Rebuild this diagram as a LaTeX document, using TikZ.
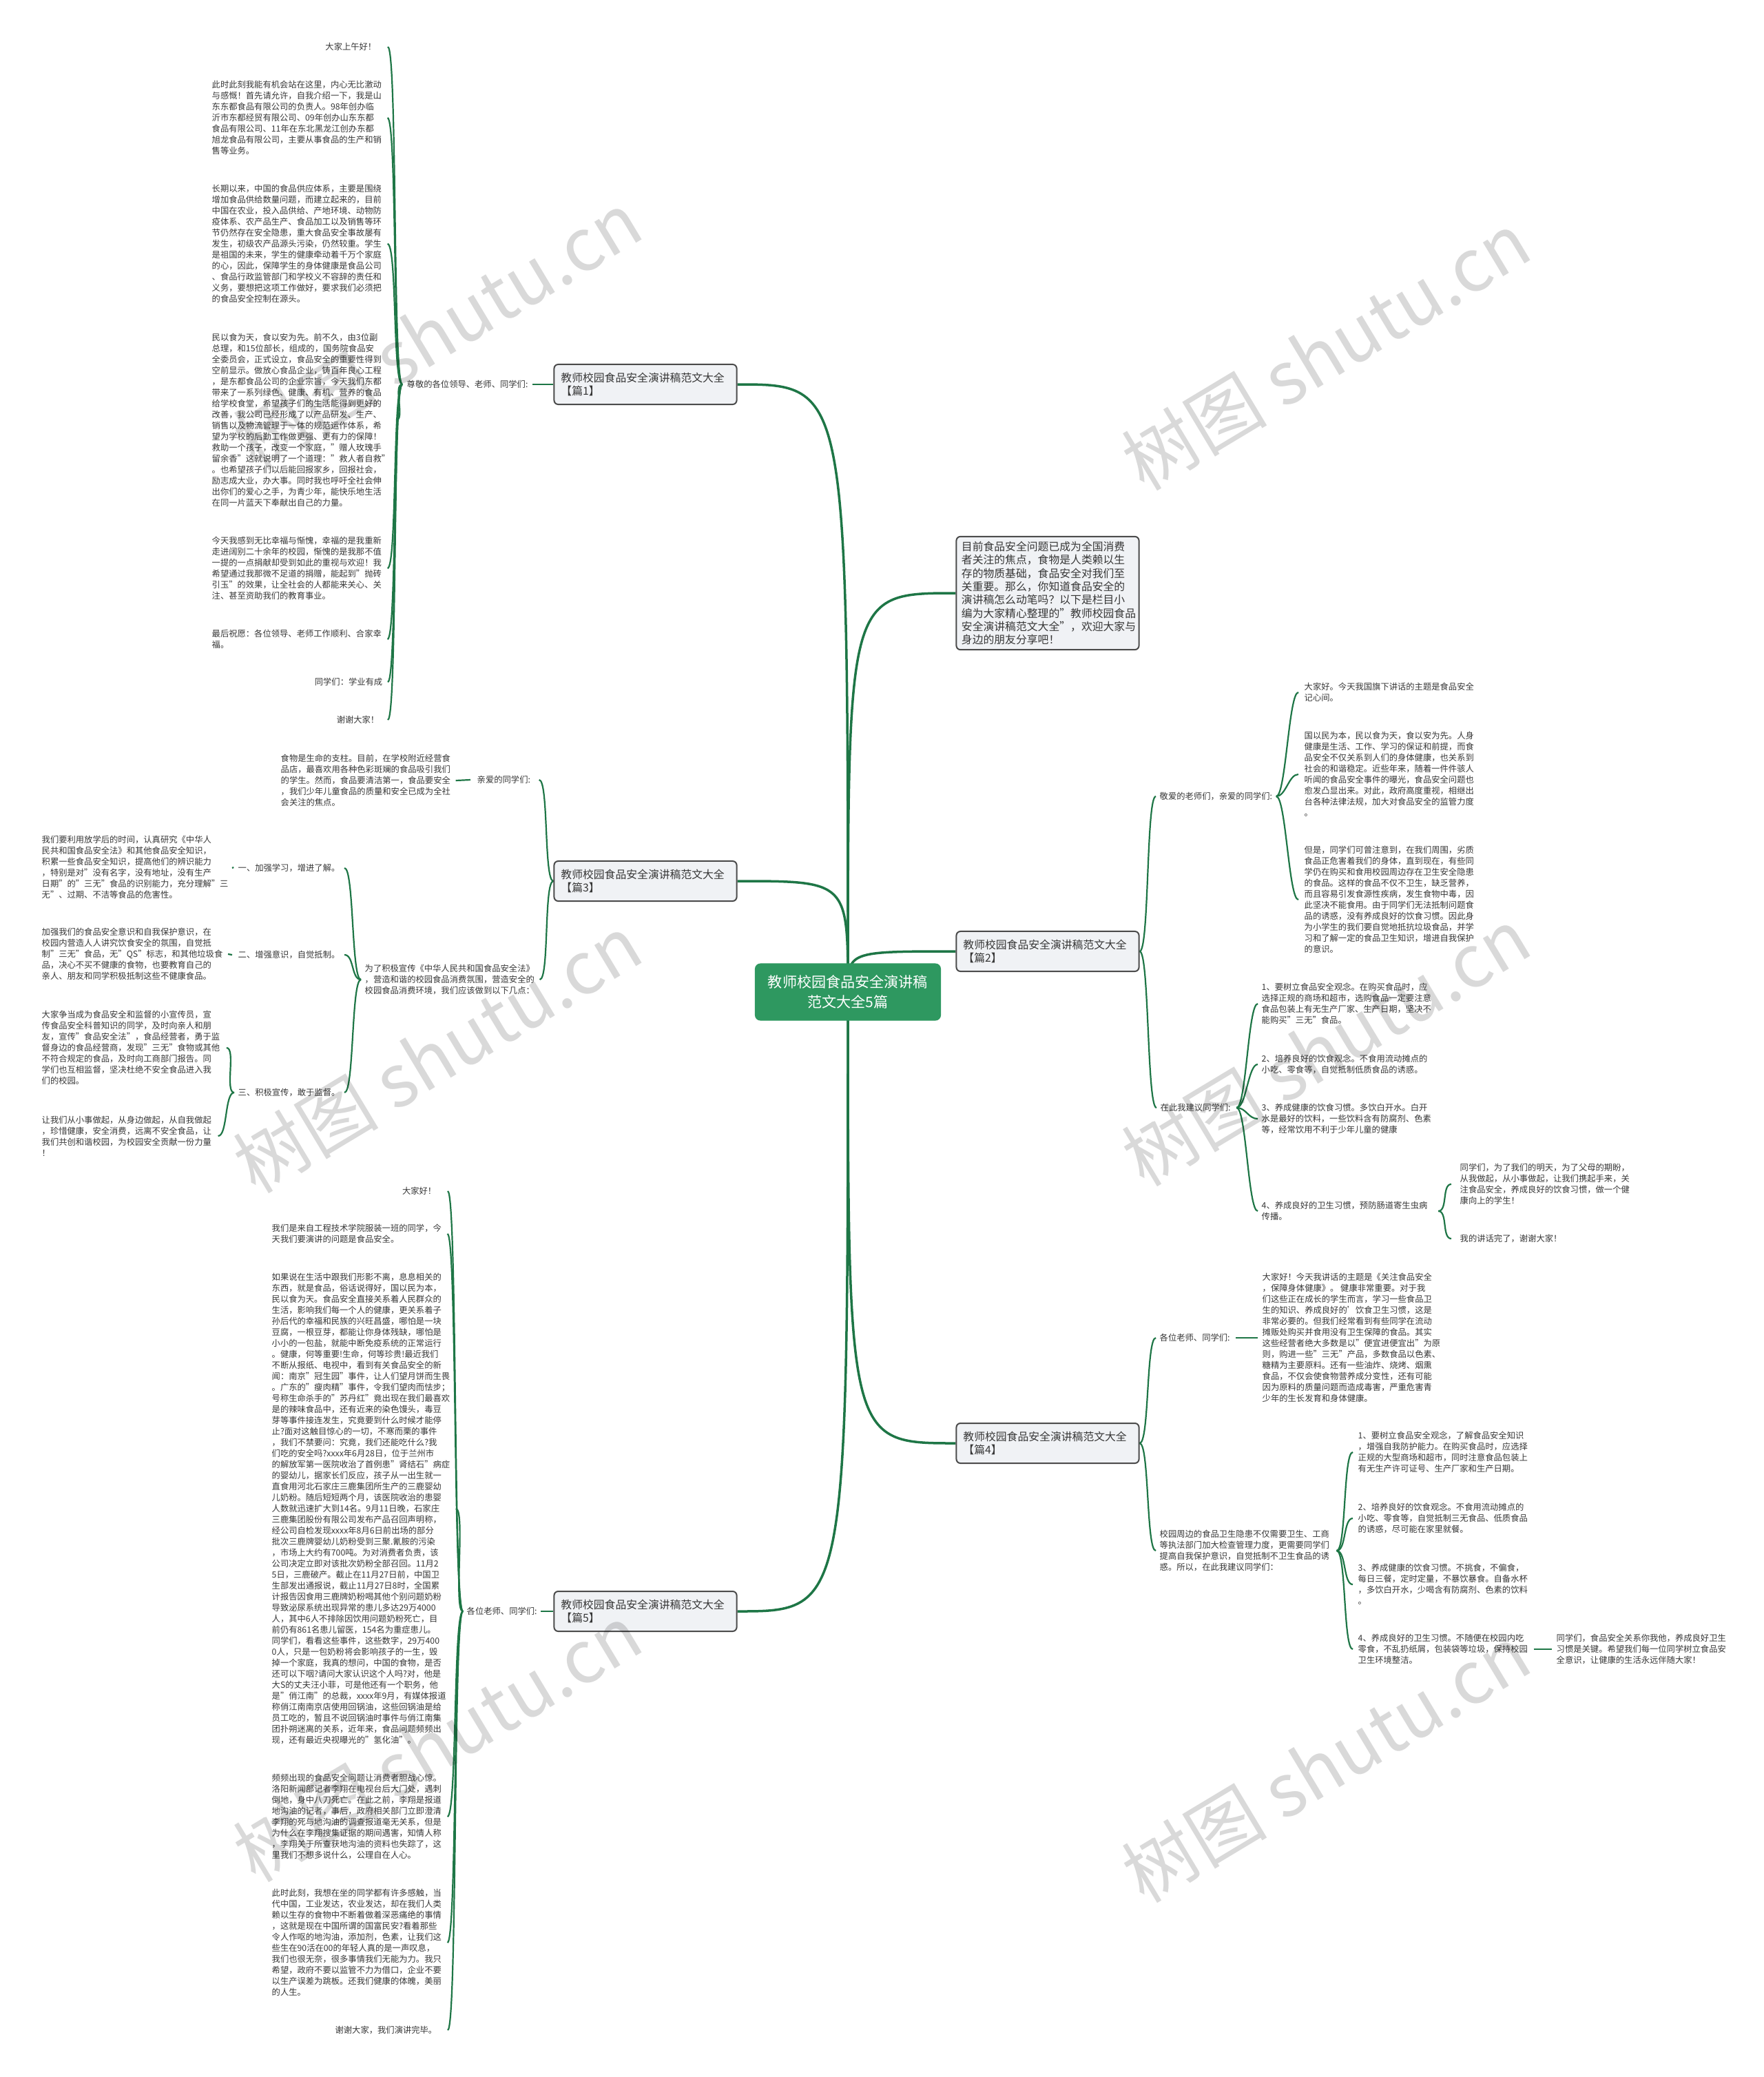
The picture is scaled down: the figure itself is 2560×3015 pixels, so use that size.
\documentclass[tikz,border=0pt]{standalone}
\usepackage{fontspec}
\setmainfont{Noto Sans CJK SC}
\usetikzlibrary{backgrounds,calc}
\definecolor{tc}{RGB}{55,55,55}
\definecolor{lc}{RGB}{30,118,70}
\definecolor{cg}{RGB}{46,152,96}
\definecolor{bf}{RGB}{240,242,245}
\definecolor{bd}{RGB}{75,75,75}
\newcommand\fsA{\fontsize{3.5pt}{4.55pt}\selectfont}
\newcommand\fsB{\fontsize{4.5pt}{5.5pt}\selectfont}
\newcommand\fsC{\fontsize{6pt}{8.2pt}\selectfont}
\newcommand\mmL[4]{\draw[subln] ($(#1.west)+(-#3,0)$) .. controls +(-14,0) and +(14,0) .. ($(#2.east)+(#4,0)$);}
\newcommand\mmR[4]{\draw[subln] ($(#1.east)+(#3,0)$) .. controls +(14,0) and +(-14,0) .. ($(#2.west)+(-#4,0)$);}
\tikzset{
  tx/.style={font=\fsA, text=tc, inner sep=0pt, align=left, anchor=west},
  txr/.style={font=\fsA, text=tc, inner sep=0pt, align=right, anchor=east},
  br/.style={draw=bd, line width=0.02cm, fill=bf, rounded corners=0.06cm, font=\fsB, text=tc, align=left, text width=2.45cm, inner xsep=0.1cm, minimum height=0.58cm},
  ib/.style={draw=bd, line width=0.02cm, fill=bf, rounded corners=0.06cm, font=\fsB, text=tc, align=left, text width=2.5cm, inner xsep=0.075cm, inner ysep=0.07cm},
  ctr/.style={fill=cg, rounded corners=0.08cm, font=\fsC, text=white, align=center, minimum width=2.7cm, minimum height=0.83cm},
  mainln/.style={draw=lc, line width=0.035cm},
  subln/.style={draw=lc, line width=0.022cm},
  wm/.style={font=\fontsize{30pt}{30pt}\selectfont, text=black, opacity=0.15, rotate=31}
}
\begin{document}
\begin{tikzpicture}[x=0.01cm, y=-0.01cm]
\useasboundingbox (0,0) rectangle (2560,3015);

% centre and branches
\node[ctr] (c) at (1231,1440) {教师校园食品安全演讲稿\\范文大全5篇};
\node[ib] (intro) at (1521,861) {目前食品安全问题已成为全国消费\\者关注的焦点，食物是人类赖以生\\存的物质基础，食品安全对我们至\\关重要。那么，你知道食品安全的\\演讲稿怎么动笔吗？以下是栏目小\\编为大家精心整理的"教师校园食品\\安全演讲稿范文大全"，欢迎大家与\\身边的朋友分享吧！};
\node[br] (B1) at (937,558) {教师校园食品安全演讲稿范文大全\\【篇1】};
\node[br] (B3) at (937,1279) {教师校园食品安全演讲稿范文大全\\【篇3】};
\node[br] (B5) at (937,2339) {教师校园食品安全演讲稿范文大全\\【篇5】};
\node[br] (B2) at (1521,1381) {教师校园食品安全演讲稿范文大全\\【篇2】};
\node[br] (B4) at (1521,2095) {教师校园食品安全演讲稿范文大全\\【篇4】};

% ---- 篇1
\node[tx] (l1) at (590,558) {尊敬的各位领导、老师、同学们:};
\node[txr] (p1a) at (547,68) {大家上午好！};
\node[tx] (p1b) at (307,171) {此时此刻我能有机会站在这里，内心无比激动\\与感慨！首先请允许，自我介绍一下，我是山\\东东都食品有限公司的负责人。98年创办临\\沂市东都经贸有限公司、09年创办山东东都\\食品有限公司、11年在东北黑龙江创办东都\\旭龙食品有限公司，主要从事食品的生产和销\\售等业务。};
\node[tx] (p1c) at (307,354) {长期以来，中国的食品供应体系，主要是围绕\\增加食品供给数量问题，而建立起来的，目前\\中国在农业，投入品供给、产地环境、动物防\\疫体系、农产品生产、食品加工以及销售等环\\节仍然存在安全隐患，重大食品安全事故屡有\\发生，初级农产品源头污染，仍然较重。学生\\是祖国的未来，学生的健康牵动着千万个家庭\\的心，因此，保障学生的身体健康是食品公司\\、食品行政监管部门和学校义不容辞的责任和\\义务，要想把这项工作做好，要求我们必须把\\的食品安全控制在源头。};
\node[tx] (p1d) at (307,610) {民以食为天，食以安为先。前不久，由3位副\\总理，和15位部长，组成的，国务院食品安\\全委员会，正式设立，食品安全的重要性得到\\空前显示。做放心食品企业，铸百年良心工程\\，是东都食品公司的企业宗旨，今天我们东都\\带来了一系列绿色、健康、有机、营养的食品\\给学校食堂，希望孩子们的生活能得到更好的\\改善，我公司已经形成了以产品研发、生产、\\销售以及物流管理于一体的规范运作体系，希\\望为学校的后勤工作做更强、更有力的保障！\\救助一个孩子，改变一个家庭，"赠人玫瑰手\\留余香"这就说明了一个道理："救人者自救"\\。也希望孩子们以后能回报家乡，回报社会，\\励志成大业，办大事。同时我也呼吁全社会伸\\出你们的爱心之手，为青少年，能快乐地生活\\在同一片蓝天下奉献出自己的力量。};
\node[tx] (p1e) at (307,825) {今天我感到无比幸福与惭愧，幸福的是我重新\\走进阔别二十余年的校园，惭愧的是我那不值\\一提的一点捐献却受到如此的重视与欢迎！我\\希望通过我那微不足道的捐赠，能起到"抛砖\\引玉"的效果，让全社会的人都能来关心、关\\注、甚至资助我们的教育事业。};
\node[tx] (p1f) at (307,928) {最后祝愿：各位领导、老师工作顺利、合家幸\\福。};
\node[txr] (p1g) at (556,990) {同学们：学业有成};
\node[txr] (p1h) at (551,1045) {谢谢大家！};

% ---- 篇3
\node[tx] (l3a) at (692,1132) {亲爱的同学们:};
\node[tx] (p3a) at (407,1133) {食物是生命的支柱。目前，在学校附近经营食\\品店，最喜欢用各种色彩斑斓的食品吸引我们\\的学生。然而，食品要清洁第一，食品要安全\\，我们少年儿童食品的质量和安全已成为全社\\会关注的焦点。};
\node[tx] (l3b) at (529,1422) {为了积极宣传《中华人民共和国食品安全法》\\，营造和谐的校园食品消费氛围，营造安全的\\校园食品消费环境，我们应该做到以下几点：};
\node[tx] (l3b1) at (345,1260) {一、加强学习，增进了解。};
\node[tx] (l3b2) at (345,1386) {二、增强意识，自觉抵制。};
\node[tx] (l3b3) at (345,1586) {三、积极宣传，敢于监督。};
\node[tx] (p3b1) at (60,1259) {我们要利用放学后的时间，认真研究《中华人\\民共和国食品安全法》和其他食品安全知识，\\积累一些食品安全知识，提高他们的辨识能力\\，特别是对"没有名字，没有地址，没有生产\\日期"的"三无"食品的识别能力，充分理解"三\\无"、过期、不洁等食品的危害性。};
\node[tx] (p3b2) at (60,1385) {加强我们的食品安全意识和自我保护意识，在\\校园内营造人人讲究饮食安全的氛围，自觉抵\\制"三无"食品，无"QS"标志，和其他垃圾食\\品，决心不买不健康的食物，也要教育自己的\\亲人、朋友和同学积极抵制这些不健康食品。};
\node[tx] (p3b3a) at (60,1521) {大家争当成为食品安全和监督的小宣传员，宣\\传食品安全科普知识的同学，及时向亲人和朋\\友，宣传"食品安全法"，食品经营者，勇于监\\督身边的食品经营商，发现"三无"食物或其他\\不符合规定的食品，及时向工商部门报告。同\\学们也互相监督，坚决杜绝不安全食品进入我\\们的校园。};
\node[tx] (p3b3b) at (60,1649) {让我们从小事做起，从身边做起，从自我做起\\，珍惜健康，安全消费，远离不安全食品，让\\我们共创和谐校园，为校园安全贡献一份力量\\！};

% ---- 篇5
\node[tx] (l5) at (677,2339) {各位老师、同学们:};
\node[txr] (p5a) at (634,1729) {大家好！};
\node[tx] (p5b) at (394,1791) {我们是来自工程技术学院服装一班的同学，今\\天我们要演讲的问题是食品安全。};
\node[tx] (p5c) at (394,2190) {如果说在生活中跟我们形影不离，息息相关的\\东西，就是食品，俗话说得好，国以民为本，\\民以食为天。食品安全直接关系着人民群众的\\生活，影响我们每一个人的健康，更关系着子\\孙后代的幸福和民族的兴旺昌盛，哪怕是一块\\豆腐，一根豆芽，都能让你身体残缺，哪怕是\\小小的一包盐，就能中断免疫系统的正常运行\\。健康，何等重要!生命，何等珍贵!最近我们\\不断从报纸、电视中，看到有关食品安全的新\\闻：南京"冠生园"事件，让人们望月饼而生畏\\。广东的"瘦肉精"事件，令我们望肉而怯步；\\号称生命杀手的"苏丹红"竟出现在我们最喜欢\\是的辣味食品中，还有近来的染色馒头，毒豆\\芽等事件接连发生，究竟要到什么时候才能停\\止?面对这触目惊心的一切，不寒而栗的事件\\，我们不禁要问：究竟，我们还能吃什么?我\\们吃的安全吗?xxxx年6月28日，位于兰州市\\的解放军第一医院收治了首例患"肾结石"病症\\的婴幼儿，据家长们反应，孩子从一出生就一\\直食用河北石家庄三鹿集团所生产的三鹿婴幼\\儿奶粉。随后短短两个月，该医院收治的患婴\\人数就迅速扩大到14名。9月11日晚，石家庄\\三鹿集团股份有限公司发布产品召回声明称，\\经公司自检发现xxxx年8月6日前出场的部分\\批次三鹿牌婴幼儿奶粉受到三聚.氰胺的污染\\，市场上大约有700吨。为对消费者负责，该\\公司决定立即对该批次奶粉全部召回。11月2\\5日，三鹿破产。截止在11月27日前，中国卫\\生部发出通报说，截止11月27日8时，全国累\\计报告因食用三鹿牌奶粉喝其他个别问题奶粉\\导致泌尿系统出现异常的患儿多达29万4000\\人，其中6人不排除因饮用问题奶粉死亡，目\\前仍有861名患儿留医，154名为重症患儿。\\同学们，看看这些事件，这些数字，29万400\\0人，只是一包奶粉将会影响孩子的一生，毁\\掉一个家庭，我真的想问，中国的食物，是否\\还可以下咽?请问大家认识这个人吗?对，他是\\大S的丈夫汪小菲，可是他还有一个职务，他\\是"俏江南"的总裁，xxxx年9月，有媒体报道\\称俏江南南京店使用回锅油，这些回锅油是给\\员工吃的，暂且不说回锅油时事件与俏江南集\\团扑朔迷离的关系，近年来，食品问题频频出\\现，还有最近央视曝光的"氢化油"。};
\node[tx] (p5d) at (394,2637) {频频出现的食品安全问题让消费者胆战心惊。\\洛阳新闻部记者李翔在电视台后大门处，遇刺\\倒地，身中八刀死亡。在此之前，李翔是报道\\地沟油的记者，事后，政府相关部门立即澄清\\李翔的死与地沟油的调查报道毫无关系，但是\\为什么在李翔搜集证据的期间遇害，知情人称\\，李翔关于所查获地沟油的资料也失踪了，这\\里我们不想多说什么，公理自在人心。};
\node[tx] (p5e) at (394,2820) {此时此刻，我想在坐的同学都有许多感触，当\\代中国，工业发达，农业发达，却在我们人类\\赖以生存的食物中不断着做着深恶痛绝的事情\\，这就是现在中国所谓的国富民安?看着那些\\令人作呕的地沟油，添加剂，色素，让我们这\\些生在90活在00的年轻人真的是一声叹息，\\我们也很无奈，很多事情我们无能为力。我只\\希望，政府不要以监管不力为借口，企业不要\\以生产误差为跳板。还我们健康的体魄，美丽\\的人生。};
\node[txr] (p5f) at (635,2947) {谢谢大家，我们演讲完毕。};

% ---- 篇2
\node[tx] (l2a) at (1683,1156) {敬爱的老师们，亲爱的同学们:};
\node[tx] (p2a) at (1893,1005) {大家好。今天我国旗下讲话的主题是食品安全\\记心间。};
\node[tx] (p2b) at (1893,1124) {国以民为本，民以食为天，食以安为先。人身\\健康是生活、工作、学习的保证和前提，而食\\品安全不仅关系到人们的身体健康，也关系到\\社会的和谐稳定。近些年来，随着一件件骇人\\听闻的食品安全事件的曝光，食品安全问题也\\愈发凸显出来。对此，政府高度重视，相继出\\台各种法律法规，加大对食品安全的监管力度\\。};
\node[tx] (p2c) at (1893,1306) {但是，同学们可曾注意到，在我们周围，劣质\\食品正危害着我们的身体，直到现在，有些同\\学仍在购买和食用校园周边存在卫生安全隐患\\的食品。这样的食品不仅不卫生，缺乏营养，\\而且容易引发食源性疾病，发生食物中毒，因\\此坚决不能食用。由于同学们无法抵制问题食\\品的诱惑，没有养成良好的饮食习惯。因此身\\为小学生的我们要自觉地抵抗垃圾食品，并学\\习和了解一定的食品卫生知识，增进自我保护\\的意识。};
\node[tx] (l2b) at (1684,1608) {在此我建议同学们:};
\node[tx] (p2d) at (1831,1457) {1、要树立食品安全观念。在购买食品时，应\\选择正规的商场和超市，选购食品一定要注意\\食品包装上有无生产厂家、生产日期，坚决不\\能购买"三无"食品。};
\node[tx] (p2e) at (1831,1545) {2、培养良好的饮食观念。不食用流动摊点的\\小吃、零食等，自觉抵制低质食品的诱惑。};
\node[tx] (p2f) at (1831,1624) {3、养成健康的饮食习惯。多饮白开水。白开\\水是最好的饮料，一些饮料含有防腐剂、色素\\等，经常饮用不利于少年儿童的健康};
\node[tx] (p2g) at (1831,1758) {4、养成良好的卫生习惯，预防肠道寄生虫病\\传播。};
\node[tx] (p2h) at (2119,1719) {同学们，为了我们的明天，为了父母的期盼，\\从我做起，从小事做起，让我们携起手来，关\\注食品安全，养成良好的饮食习惯，做一个健\\康向上的学生！};
\node[tx] (p2i) at (2119,1798) {我的讲话完了，谢谢大家！};

% ---- 篇4
\node[tx] (l4a) at (1683,1942) {各位老师、同学们:};
\node[tx] (p4a) at (1832,1942) {大家好！今天我讲话的主题是《关注食品安全\\，保障身体健康》。 健康非常重要。对于我\\们这些正在成长的学生而言，学习一些食品卫\\生的知识、养成良好的'饮食卫生习惯，这是\\非常必要的。但我们经常看到有些同学在流动\\摊贩处购买并食用没有卫生保障的食品。其实\\这些经营者绝大多数是以"便宜进便宜出"为原\\则，购进一些"三无"产品，多数食品以色素、\\糖精为主要原料。还有一些油炸、烧烤、烟熏\\食品，不仅会使食物营养成分变性，还有可能\\因为原料的质量问题而造成毒害，严重危害青\\少年的生长发育和身体健康。};
\node[tx] (l4b) at (1683,2251) {校园周边的食品卫生隐患不仅需要卫生、工商\\等执法部门加大检查管理力度，更需要同学们\\提高自我保护意识，自觉抵制不卫生食品的诱\\惑。所以，在此我建议同学们：};
\node[tx] (p4b) at (1971,2108) {1、要树立食品安全观念，了解食品安全知识\\，增强自我防护能力。在购买食品时，应选择\\正规的大型商场和超市，同时注意食品包装上\\有无生产许可证号、生产厂家和生产日期。};
\node[tx] (p4c) at (1971,2204) {2、培养良好的饮食观念。不食用流动摊点的\\小吃、零食等，自觉抵制三无食品、低质食品\\的诱惑，尽可能在家里就餐。};
\node[tx] (p4d) at (1971,2300) {3、养成健康的饮食习惯。不挑食，不偏食，\\每日三餐，定时定量，不暴饮暴食。自备水杯\\，多饮白开水，少喝含有防腐剂、色素的饮料\\。};
\node[tx] (p4e) at (1971,2394) {4、养成良好的卫生习惯。不随便在校园内吃\\零食，不乱扔纸屑，包装袋等垃圾，保持校园\\卫生环境整洁。};
\node[tx] (p4f) at (2259,2394) {同学们，食品安全关系你我他，养成良好卫生\\习惯是关键。希望我们每一位同学树立食品安\\全意识，让健康的生活永远伴随大家！};

% ---- connectors
\begin{scope}[on background layer]
\fill[white] (0,0) rectangle (2560,3015);
\draw[mainln] (c.center) .. controls (c.center |- B1.east) .. (B1.east);
\draw[mainln] (c.center) .. controls (c.center |- B3.east) .. (B3.east);
\draw[mainln] (c.center) .. controls (c.center |- B5.east) .. (B5.east);
\draw[mainln] (c.center) .. controls (c.center |- intro.west) .. (intro.west);
\draw[mainln] (c.center) .. controls (c.center |- B2.west) .. (B2.west);
\draw[mainln] (c.center) .. controls (c.center |- B4.west) .. (B4.west);
% 篇1
\draw[subln] (B1.west) -- ($(l1.east)+(6,0)$);
\mmL{l1}{p1a}{6}{16}
\mmL{l1}{p1b}{6}{8}
\mmL{l1}{p1c}{6}{8}
\mmL{l1}{p1d}{6}{8}
\mmL{l1}{p1e}{6}{8}
\mmL{l1}{p1f}{6}{8}
\mmL{l1}{p1g}{6}{7}
\mmL{l1}{p1h}{6}{12}
% 篇3
\mmL{B3}{l3a}{0}{12}
\mmL{B3}{l3b}{0}{7}
\draw[subln] ($(l3a.west)+(-9,0)$) -- ($(p3a.east)+(7,0)$);
\mmL{l3b}{l3b1}{5}{6}
\mmL{l3b}{l3b2}{5}{6}
\mmL{l3b}{l3b3}{5}{6}
\draw[subln] ($(l3b1.west)+(-8,0)$) -- ($(p3b1.east)+(7,0)$);
\draw[subln] ($(l3b2.west)+(-8,0)$) -- ($(p3b2.east)+(7,0)$);
\mmL{l3b3}{p3b3a}{5}{9}
\mmL{l3b3}{p3b3b}{5}{9}
% 篇5
\draw[subln] (B5.west) -- ($(l5.east)+(5,0)$);
\mmL{l5}{p5a}{5}{16}
\mmL{l5}{p5b}{5}{8}
\mmL{l5}{p5c}{5}{8}
\mmL{l5}{p5d}{5}{8}
\mmL{l5}{p5e}{5}{8}
\mmL{l5}{p5f}{5}{15}
% 篇2
\mmR{B2}{l2a}{0}{5}
\mmR{B2}{l2b}{0}{5}
\mmR{l2a}{p2a}{5}{8}
\mmR{l2a}{p2b}{5}{8}
\mmR{l2a}{p2c}{5}{8}
\mmR{l2b}{p2d}{8}{5}
\mmR{l2b}{p2e}{8}{5}
\mmR{l2b}{p2f}{8}{5}
\mmR{l2b}{p2g}{8}{5}
\mmR{p2g}{p2h}{15}{12}
\mmR{p2g}{p2i}{15}{12}
% 篇4
\mmR{B4}{l4a}{0}{5}
\mmR{B4}{l4b}{0}{5}
\draw[subln] ($(l4a.east)+(8,0)$) -- ($(p4a.west)+(-6,0)$);
\mmR{l4b}{p4b}{10}{7}
\mmR{l4b}{p4c}{10}{7}
\mmR{l4b}{p4d}{10}{7}
\mmR{l4b}{p4e}{10}{7}
\draw[subln] ($(p4e.east)+(8,0)$) -- ($(p4f.west)+(-6,0)$);
\end{scope}

% watermarks
\node[wm] (w1) at (635,480) {树图 shutu.cn};
\node[wm] (w2) at (1925,510) {树图 shutu.cn};
\node[wm] (w3) at (635,1530) {树图 shutu.cn};
\node[wm] (w4) at (1925,1520) {树图 shutu.cn};
\node[wm] (w5) at (635,2530) {树图 shutu.cn};
\node[wm] (w6) at (1925,2560) {树图 shutu.cn};
\end{tikzpicture}
\end{document}
